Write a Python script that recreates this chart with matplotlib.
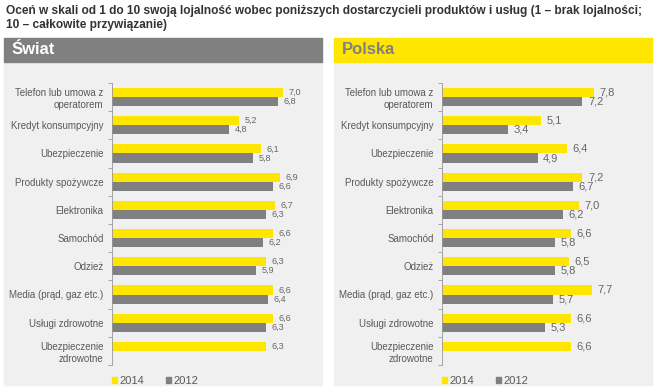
import numpy as np
import matplotlib
matplotlib.use("Agg")
import matplotlib.pyplot as plt
from matplotlib.patches import Rectangle, Patch

# Data
categories = ["Telefon lub umowa z\noperatorem", "Kredyt konsumpcyjny", "Ubezpieczenie",
              "Produkty spożywcze", "Elektronika", "Samochód", "Odzież",
              "Media (prąd, gaz etc.)", "Usługi zdrowotne", "Ubezpieczenie\nzdrowotne"]
swiat_2014 = [7.0, 5.2, 6.1, 6.9, 6.7, 6.6, 6.3, 6.6, 6.6, 6.3]
swiat_2012 = [6.8, 4.8, 5.8, 6.6, 6.3, 6.2, 5.9, 6.4, 6.3, None]
polska_2014 = [7.8, 5.1, 6.4, 7.2, 7.0, 6.6, 6.5, 7.7, 6.6, 6.6]
polska_2012 = [7.2, 3.4, 4.9, 6.7, 6.2, 5.8, 5.8, 5.7, 5.3, None]

YELLOW = "#ffe600"
GREY = "#808080"
BG = "#f0f0f0"
TXT = "#595959"

plt.rcParams["font.family"] = ["Liberation Sans", "DejaVu Sans"]

W, H = 655, 389
fig = plt.figure(figsize=(W / 100, H / 100), dpi=100)
fig.patch.set_facecolor("white")


def px_rect(x0, y0, x1, y1):
    # pixel box (top-left origin) -> figure fraction
    return [x0 / W, 1 - y1 / H, (x1 - x0) / W, (y1 - y0) / H]


fig.text(6 / W, 1 - 5 / H,
         "Oceń w skali od 1 do 10 swoją lojalność wobec poniższych dostarczycieli produktów i usług (1 – brak lojalności;\n10 – całkowite przywiązanie)",
         fontsize=8.6, fontweight="bold", color="#333333", va="top", ha="left", linespacing=1.2)


def panel(x0, x1, title, head_color, title_color, v14, v12, xmax, lab_size):
    # background and header
    fig.patches.append(Rectangle((x0 / W, 1 - 385 / H), (x1 - x0) / W, (385 - 62) / H,
                                 transform=fig.transFigure, color=BG, zorder=-5))
    fig.patches.append(Rectangle((x0 / W, 1 - 62 / H), (x1 - x0) / W, (62 - 38) / H,
                                 transform=fig.transFigure, color=head_color, zorder=-5))
    fig.text((x0 + 8) / W, 1 - 50 / H, title, fontsize=12, fontweight="bold",
             color=title_color, va="center", ha="left")

    ax_x0 = x0 + 108
    ax = fig.add_axes(px_rect(ax_x0, 83, ax_x0 + 195, 365))
    ax.set_facecolor("none")
    y = np.arange(len(categories))
    h = 0.32
    ax.barh(y - 0.16, v14, height=h, color=YELLOW, label="2014")
    y12 = [yy for yy, v in zip(y, v12) if v is not None]
    val12 = [v for v in v12 if v is not None]
    ax.barh(np.array(y12) + 0.16, val12, height=h, color=GREY, label="2012")

    for yy, v in zip(y, v14):
        ax.annotate(f"{v:.1f}".replace(".", ","), (v, yy - 0.16), xytext=(4, 0),
                    textcoords="offset points", va="center", ha="left",
                    fontsize=lab_size, color="#666666")
    for yy, v in zip(y12, val12):
        ax.annotate(f"{v:.1f}".replace(".", ","), (v, yy + 0.16), xytext=(4, 0),
                    textcoords="offset points", va="center", ha="left",
                    fontsize=lab_size, color="#666666")

    ax.set_xlim(0, xmax)
    ax.set_ylim(9.5, -0.5)
    ax.set_xticks([])
    ax.set_yticks(y)
    ax.set_yticklabels(categories, fontsize=7, color=TXT, ha="right", linespacing=1.25)
    ax.tick_params(axis="y", which="major", length=0, pad=6)
    ax.set_yticks(np.arange(-0.5, 10, 1), minor=True)
    ax.tick_params(axis="y", which="minor", length=3, color="#999999", width=0.6)
    for s in ["top", "right", "bottom"]:
        ax.spines[s].set_visible(False)
    ax.spines["left"].set_color("#999999")
    ax.spines["left"].set_linewidth(0.6)

    handles = [Patch(color=YELLOW, label="2014"), Patch(color=GREY, label="2012")]
    ax.legend(handles=handles, loc="upper left", bbox_to_anchor=(-0.05, -0.005),
              ncol=2, frameon=False, fontsize=8, handlelength=0.45, handleheight=0.45,
              handletextpad=0.2, columnspacing=2.0, labelcolor=TXT)
    return ax


panel(4, 322, "Świat", "#808080", "white", swiat_2014, swiat_2012, 8, 6.5)
panel(334, 652, "Polska", YELLOW, "#808080", polska_2014, polska_2012, 10, 8)

fig.savefig("out.png", dpi=100, facecolor="white")
